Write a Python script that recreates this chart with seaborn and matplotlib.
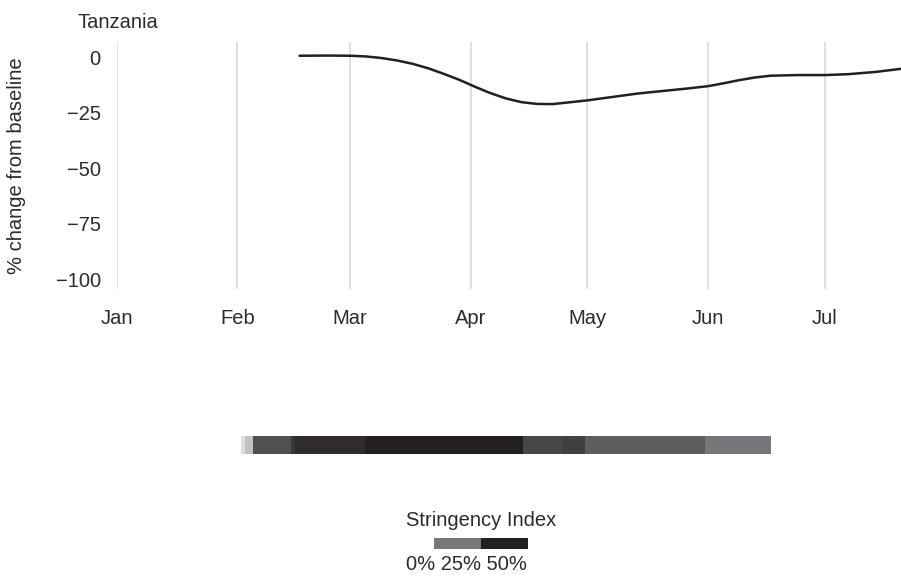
import numpy as np
import pandas as pd
import matplotlib
matplotlib.use("Agg")
import matplotlib.pyplot as plt
from matplotlib.colors import LinearSegmentedColormap
import seaborn as sns

# ---------------- data ----------------
country = "Tanzania"
mobility_dates = ["2020-02-17", "2020-02-24", "2020-03-01", "2020-03-05", "2020-03-09",
                  "2020-03-13", "2020-03-17", "2020-03-21", "2020-03-25", "2020-03-29",
                  "2020-04-02", "2020-04-06", "2020-04-10", "2020-04-14", "2020-04-18",
                  "2020-04-22", "2020-05-01", "2020-05-14", "2020-05-27", "2020-06-01",
                  "2020-06-05", "2020-06-09", "2020-06-13", "2020-06-17", "2020-06-24",
                  "2020-07-01", "2020-07-07", "2020-07-14", "2020-07-21"]
mobility_change = [0.6, 0.7, 0.6, 0.3, -0.4,
                   -1.5, -3.0, -5.0, -7.5, -10.2,
                   -13.3, -16.2, -18.6, -20.3, -21.1,
                   -21.2, -19.5, -16.4, -14.1, -13.1,
                   -11.8, -10.4, -9.2, -8.4, -8.1,
                   -8.1, -7.7, -6.7, -5.2]
month_ticks = ["2020-01-01", "2020-02-01", "2020-03-01", "2020-04-01",
               "2020-05-01", "2020-06-01", "2020-07-01"]
month_labels = ["Jan", "Feb", "Mar", "Apr", "May", "Jun", "Jul"]
y_ticks = [0, -25, -50, -75, -100]
y_labels = ["0", "\u221225", "\u221250", "\u221275", "\u2212100"]

segment_days = [1, 2, 10, 1, 18, 41, 10, 6, 31, 17]
segment_stringency = [3.2, 5.7, 24.0, 30.8, 33.6, 41.7, 26.2, 28.5, 19.6, 12.5]
legend_values = [12.5, 37.5]
legend_text = "0% 25% 50%"

# ---------------- style ----------------
sns.set_theme(style="white")
plt.rcParams["font.family"] = ["Liberation Sans", "DejaVu Sans"]
TXT = "#2b2b2b"
DARK = "#231f20"
FS = 14.5

W, H = 901, 580
fig = plt.figure(figsize=(W / 100, H / 100), dpi=100)

def fx(px):
    return px / W

def fy(py):
    return 1 - py / H

# main axes
ax = fig.add_axes([fx(116.7), fy(289), 1 - fx(116.7), fy(42) - fy(289)])
df = pd.DataFrame({"date": pd.to_datetime(mobility_dates), "change": mobility_change})
sns.lineplot(data=df, x="date", y="change", ax=ax, color=DARK, linewidth=1.8)

x0 = pd.Timestamp("2020-01-01")
ax.set_xlim(x0, x0 + pd.Timedelta(days=201.6))
ax.set_ylim(-104.5, 6.8)
ax.set_xticks(pd.to_datetime(month_ticks))
ax.set_xticklabels(month_labels)
ax.set_yticks(y_ticks)
ax.set_yticklabels(y_labels)
ax.grid(axis="x", color="#d6d6d6", linewidth=1.1)
ax.grid(axis="y", visible=False)
for s in ax.spines.values():
    s.set_visible(False)
ax.tick_params(axis="x", length=0, pad=14.5, labelsize=FS, labelcolor=TXT)
ax.tick_params(axis="y", length=0, pad=11.5, labelsize=FS, labelcolor=TXT)
ax.set_xlabel("")
ax.set_ylabel("")
fig.text(fx(17), fy(166), "% change from baseline", fontsize=FS, color=TXT,
         rotation=90, ha="center", va="center")
fig.text(fx(78), fy(22), country, fontsize=FS, color=TXT, va="center", ha="left")

# stringency colour map
cmap = LinearSegmentedColormap.from_list(
    "str", [(0.0, "#ffffff"), (0.25, "#76777a"), (0.75, DARK), (1.0, DARK)])

# stringency strip
sax = fig.add_axes([fx(241), fy(454), fx(771) - fx(241), fy(436) - fy(454)])
daily = np.repeat(segment_stringency, segment_days)[None, :]
sns.heatmap(daily, ax=sax, cmap=cmap, vmin=0, vmax=50, cbar=False,
            xticklabels=False, yticklabels=False)
sax.set_xlabel("")
sax.set_ylabel("")

# legend
fig.text(fx(481), fy(521), "Stringency Index", fontsize=FS, color=TXT,
         ha="center", va="center")
lax = fig.add_axes([fx(434), fy(549), fx(528) - fx(434), fy(538) - fy(549)])
sns.heatmap(np.array([legend_values]), ax=lax, cmap=cmap, vmin=0, vmax=50,
            cbar=False, xticklabels=False, yticklabels=False)
fig.text(fx(466), fy(565), legend_text, fontsize=FS, color=TXT,
         ha="center", va="center")

fig.savefig("out.png", dpi=100)
